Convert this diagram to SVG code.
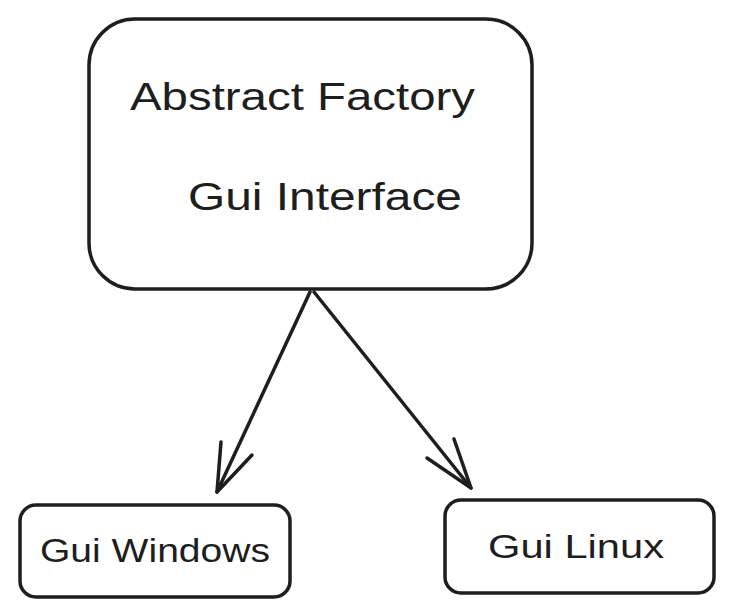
<svg xmlns="http://www.w3.org/2000/svg" width="735" height="616" viewBox="0 0 735 616">
<defs>
<style>
.box{fill:#ffffff;stroke:#1e1e1e;stroke-width:3.5;stroke-linejoin:round}
.edge{fill:none;stroke:#1e1e1e;stroke-width:3.5;stroke-linecap:round;stroke-linejoin:round}
.lbl{font-family:"Liberation Sans","DejaVu Sans",sans-serif;fill:#1e1e1e}
</style>
</defs>
<rect width="735" height="616" fill="#ffffff"/>
<g id="node-abstract-factory">
<rect class="box" x="89" y="19" width="443" height="270" rx="46" ry="46"/>
<text class="lbl" x="130" y="110" font-size="38" textLength="345" lengthAdjust="spacingAndGlyphs">Abstract Factory</text>
<text class="lbl" x="188" y="210" font-size="38" textLength="274" lengthAdjust="spacingAndGlyphs">Gui Interface</text>
</g>
<g id="node-gui-windows">
<rect class="box" x="20" y="505" width="270" height="92" rx="16" ry="16"/>
<text class="lbl" x="40" y="562" font-size="34" textLength="230" lengthAdjust="spacingAndGlyphs">Gui Windows</text>
</g>
<g id="node-gui-linux">
<rect class="box" x="445" y="500" width="269" height="93" rx="16" ry="16"/>
<text class="lbl" x="488" y="558" font-size="34" textLength="176" lengthAdjust="spacingAndGlyphs">Gui Linux</text>
</g>
<g id="connectors">
<path class="edge" d="M310 292 L217 492"/>
<path class="edge" d="M221 442 L217 492 L252 455"/>
<path class="edge" d="M314 292 L471 488" stroke-width="4.5"/>
<path class="edge" d="M454 439 L471 488 L427 458"/>
</g>
</svg>
